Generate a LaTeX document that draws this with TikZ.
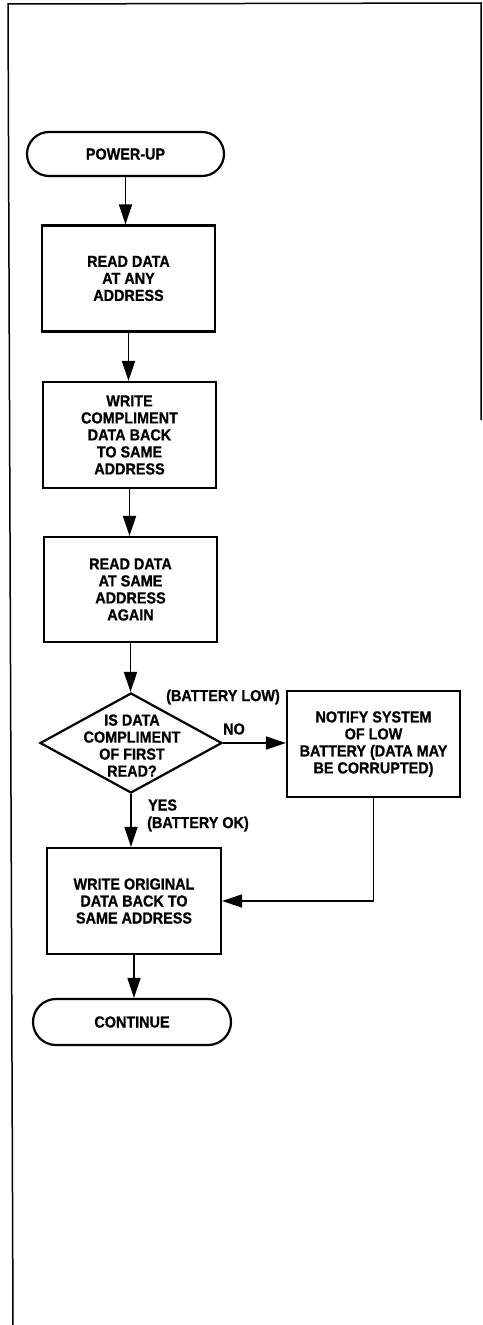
\documentclass[tikz,border=0pt]{standalone}
\usepackage{fontspec}
\setmainfont{Liberation Sans}[FakeStretch=0.9,BoldFeatures={FakeBold=0.8}]
\usetikzlibrary{arrows.meta,shapes.geometric,calc}
\begin{document}
\begin{tikzpicture}[x=1pt,y=-1pt,
  txt/.style={font=\bfseries\fontsize{16}{17}\selectfont,align=center,inner sep=0pt},
  box/.style={draw,line width=2.2pt,rectangle,minimum width=173pt,minimum height=106pt,inner sep=0pt,
     font=\bfseries\fontsize{16}{17}\selectfont,align=center},
  term/.style={draw,line width=2.2pt,rectangle,rounded corners=22pt,minimum height=44pt,minimum width=197pt,
     inner sep=0pt,font=\bfseries\fontsize{16}{17}\selectfont,align=center},
  dia/.style={draw,line width=2.2pt,diamond,minimum width=182pt,minimum height=100pt,inner sep=0pt},
  flow/.style={line width=1.8pt,-{Triangle[length=20pt,width=13pt]}},
  frameline/.style={line width=1.5pt}
]
\useasboundingbox (0,0) rectangle (482,1325);
% frame
\coordinate (ftl) at (8,4);
\coordinate (ftr) at (481,3);
\coordinate (fbl) at (13,1325);
\coordinate (frb) at (481,420);
\draw[frameline] (fbl) -- (ftl) -- (ftr) -- (frb);

\node[term] (pu) at (125.5,154) {POWER-UP};
\node[box] (b1) at (128.5,278.5) {READ DATA\\AT ANY\\ADDRESS};
\node[box] (b2) at (129.5,435) {WRITE\\COMPLIMENT\\DATA BACK\\TO SAME\\ADDRESS};
\node[box,minimum height=105pt] (b3) at (130.5,589.5) {READ DATA\\AT SAME\\ADDRESS\\AGAIN};
\node[dia] (d) at (131,743) {};
\node[txt] (dt) at (132,745.5) {IS DATA\\COMPLIMENT\\OF FIRST\\READ?};
\node[box] (nt) at (373.5,744) {NOTIFY SYSTEM\\OF LOW\\BATTERY (DATA MAY\\BE CORRUPTED)};
\node[box,minimum width=174pt] (b4) at (134,901) {WRITE ORIGINAL\\DATA BACK TO\\SAME ADDRESS};
\node[term,minimum height=46pt,minimum width=198pt,rounded corners=23pt] (ct) at (132,1022) {CONTINUE};

\node[txt] (lbl) at (223,697) {(BATTERY LOW)};
\node[txt] (lno) at (234,729) {NO};
\node[txt,anchor=west] (lyes) at (148,805) {YES};
\node[txt,anchor=west] (lok) at (147,824) {(BATTERY OK)};

\draw[flow] (pu.south) -- (pu.south |- b1.north);
\draw[flow] (b1.south) -- (b1.south |- b2.north);
\draw[flow] (b2.south) -- (b2.south |- b3.north);
\draw[flow] (b3.south) -- (b3.south |- d.north);
\draw[flow] (d.south) -- (d.south |- b4.north);
\draw[flow] (d.east) -- (d.east -| nt.west);
\draw[flow] (nt.south) |- (b4.east);
\draw[flow] (b4.south) -- (b4.south |- ct.north);
\end{tikzpicture}
\end{document}
